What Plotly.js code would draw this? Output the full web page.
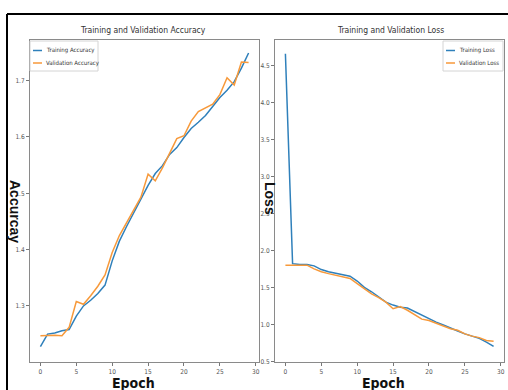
<!DOCTYPE html>
<html>
<head>
<meta charset="utf-8">
<script src="https://cdn.plot.ly/plotly-3.0.1.min.js"></script>
<style>
  html, body { margin: 0; padding: 0; background: #ffffff; }
  #chart { width: 508px; height: 390px; }
</style>
</head>
<body>
<div id="chart"></div>
<script>
// Epoch indices 0..29
const epochs = [0,1,2,3,4,5,6,7,8,9,10,11,12,13,14,15,16,17,18,19,20,21,22,23,24,25,26,27,28,29];

const trainAcc = [1.228,1.250,1.252,1.256,1.258,1.282,1.300,1.310,1.322,1.337,1.380,1.415,1.441,1.465,1.488,1.514,1.535,1.549,1.569,1.581,1.599,1.615,1.626,1.638,1.654,1.670,1.683,1.698,1.722,1.749];
const valAcc   = [1.247,1.248,1.248,1.247,1.262,1.308,1.303,1.318,1.335,1.355,1.395,1.425,1.448,1.470,1.493,1.534,1.522,1.545,1.572,1.597,1.602,1.628,1.645,1.652,1.658,1.675,1.705,1.692,1.733,1.732];

const trainLoss = [4.66,1.82,1.81,1.81,1.79,1.74,1.71,1.69,1.675,1.65,1.585,1.50,1.44,1.37,1.30,1.26,1.23,1.22,1.17,1.12,1.08,1.03,0.99,0.955,0.91,0.87,0.84,0.81,0.76,0.70];
const valLoss   = [1.80,1.80,1.80,1.80,1.75,1.71,1.685,1.66,1.645,1.62,1.55,1.48,1.41,1.36,1.30,1.21,1.24,1.19,1.135,1.07,1.05,1.01,0.97,0.94,0.92,0.87,0.84,0.82,0.78,0.77];

const xTicks = [0,5,10,15,20,25,30];
const accTicks = [1.3,1.4,1.5,1.6,1.7];
const lossTicks = [0.5,1.0,1.5,2.0,2.5,3.0,3.5,4.0,4.5];

const accNames = ['Training Accuracy', 'Validation Accuracy'];
const lossNames = ['Training Loss', 'Validation Loss'];

const BLUE = '#2f80bb';
const ORANGE = '#f7993a';
const W = 508, H = 390;
const px = v => v / W;
const py = v => 1 - v / H;

const narrow = '"DejaVu Sans Condensed", "Liberation Sans Narrow", "Liberation Sans", sans-serif';
const tickFont = { family: narrow, size: 6.5, color: '#555' };

const traces = [
  { x: epochs, y: trainAcc, name: accNames[0], type: 'scatter', mode: 'lines',
    line: { color: BLUE, width: 1.5 }, xaxis: 'x', yaxis: 'y' },
  { x: epochs, y: valAcc, name: accNames[1], type: 'scatter', mode: 'lines',
    line: { color: ORANGE, width: 1.5 }, xaxis: 'x', yaxis: 'y' },
  { x: epochs, y: trainLoss, name: lossNames[0], type: 'scatter', mode: 'lines',
    line: { color: BLUE, width: 1.5 }, xaxis: 'x2', yaxis: 'y2' },
  { x: epochs, y: valLoss, name: lossNames[1], type: 'scatter', mode: 'lines',
    line: { color: ORANGE, width: 1.5 }, xaxis: 'x2', yaxis: 'y2' }
];

const axisBase = {
  showgrid: false, zeroline: false, showline: true, mirror: true,
  linecolor: '#8a8a8a', linewidth: 1,
  ticks: 'outside', ticklen: 3, tickwidth: 1, tickcolor: '#777',
  tickfont: tickFont, tickmode: 'array'
};

// Compact matplotlib-style legend boxes: frame, short line sample, label
function legendBox(box, names, colors) {
  const shapes = [{
    type: 'rect', xref: 'paper', yref: 'paper',
    x0: px(box.x0), x1: px(box.x1), y0: py(box.y1), y1: py(box.y0),
    fillcolor: 'rgba(255,255,255,0.85)', line: { color: '#d4d4d4', width: 1 }
  }];
  const notes = [];
  names.forEach((name, i) => {
    const yy = box.y0 + 9.5 + i * 12.5;
    shapes.push({ type: 'line', xref: 'paper', yref: 'paper',
      x0: px(box.x0 + 3), x1: px(box.x0 + 12), y0: py(yy), y1: py(yy),
      line: { color: colors[i], width: 1.5 } });
    notes.push({ text: name, xref: 'paper', yref: 'paper', x: px(box.x0 + 14), y: py(yy),
      xanchor: 'left', yanchor: 'middle', showarrow: false,
      font: { family: narrow, size: 6, color: '#333' } });
  });
  return { shapes, notes };
}

const accLegend = legendBox({ x0: 30, x1: 98, y0: 41, y1: 71 }, accNames, [BLUE, ORANGE]);
const lossLegend = legendBox({ x0: 443, x1: 503, y0: 41, y1: 71 }, lossNames, [BLUE, ORANGE]);

const layout = {
  width: W, height: H,
  margin: { l: 0, r: 0, t: 0, b: 0 },
  paper_bgcolor: '#ffffff', plot_bgcolor: '#ffffff',
  showlegend: false,
  xaxis: Object.assign({}, axisBase, { domain: [px(30), px(259)], range: [-1.45, 30.45],
    tickvals: xTicks, ticktext: xTicks.map(String), anchor: 'y' }),
  yaxis: Object.assign({}, axisBase, { domain: [py(362), py(40)], range: [1.2005, 1.772],
    tickvals: accTicks, ticktext: accTicks.map(v => v.toFixed(1)), anchor: 'x' }),
  xaxis2: Object.assign({}, axisBase, { domain: [px(275), px(504)], range: [-1.45, 30.45],
    tickvals: xTicks, ticktext: xTicks.map(String), anchor: 'y2' }),
  yaxis2: Object.assign({}, axisBase, { domain: [py(362), py(40)], range: [0.49, 4.845],
    tickvals: lossTicks, ticktext: lossTicks.map(v => v.toFixed(1)), anchor: 'x2' }),
  annotations: [
    { text: 'Training and Validation Accuracy', xref: 'paper', yref: 'paper',
      x: px(143), y: py(30), xanchor: 'center', yanchor: 'middle', showarrow: false,
      font: { family: narrow, size: 8.5, color: '#333' } },
    { text: 'Training and Validation Loss', xref: 'paper', yref: 'paper',
      x: px(390), y: py(30), xanchor: 'center', yanchor: 'middle', showarrow: false,
      font: { family: narrow, size: 8.5, color: '#333' } },
    { text: '<b>Epoch</b>', xref: 'paper', yref: 'paper',
      x: px(133), y: py(383), xanchor: 'center', yanchor: 'middle', showarrow: false,
      font: { family: narrow, size: 14, color: '#111' } },
    { text: '<b>Epoch</b>', xref: 'paper', yref: 'paper',
      x: px(383), y: py(383), xanchor: 'center', yanchor: 'middle', showarrow: false,
      font: { family: narrow, size: 14, color: '#111' } },
    { text: '<b>Accurcay</b>', xref: 'paper', yref: 'paper', textangle: 90,
      x: px(15), y: py(211), xanchor: 'center', yanchor: 'middle', showarrow: false,
      font: { family: 'Liberation Sans, Arial, sans-serif', size: 14, color: '#111' } },
    { text: '<b>Loss</b>', xref: 'paper', yref: 'paper', textangle: 90,
      x: px(270), y: py(198), xanchor: 'center', yanchor: 'middle', showarrow: false,
      font: { family: 'Liberation Sans, Arial, sans-serif', size: 14, color: '#111' } }
  ].concat(accLegend.notes, lossLegend.notes),
  shapes: [
    // outer frame: top and left edges
    { type: 'line', xref: 'paper', yref: 'paper', x0: px(7), x1: 1, y0: py(14), y1: py(14),
      line: { color: '#000', width: 2 } },
    { type: 'line', xref: 'paper', yref: 'paper', x0: px(7), x1: px(7), y0: py(14), y1: 0,
      line: { color: '#000', width: 2 } }
  ].concat(accLegend.shapes, lossLegend.shapes)
};

Plotly.newPlot('chart', traces, layout, { displayModeBar: false, staticPlot: true });
</script>
</body>
</html>
